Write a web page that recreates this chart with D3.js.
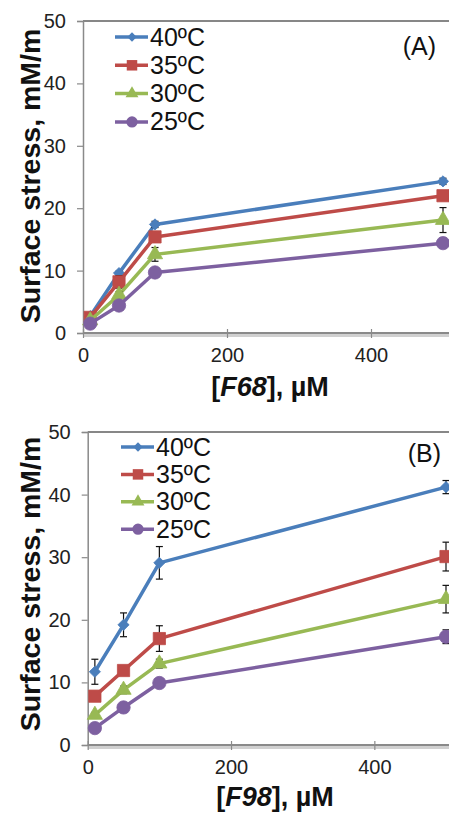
<!DOCTYPE html>
<html>
<head>
<meta charset="utf-8">
<script src="https://cdn.jsdelivr.net/npm/d3@7"></script>
<style>
  body { margin: 0; background: #fff; }
  svg { display: block; font-family: "Liberation Sans", Arial, sans-serif; }
</style>
</head>
<body>
<main></main>
<script>
// DATA
const concentrations = [10, 50, 100, 500];
const seriesNames = ["40ºC", "35ºC", "30ºC", "25ºC"];
const xTicks = [0, 200, 400];
const yTicks = [0, 10, 20, 30, 40, 50];

// panel A : F68
const f68_40 = [2.7, 9.6, 17.4, 24.3];
const f68_35 = [2.5, 8.2, 15.4, 22.0];
const f68_30 = [2.0, 6.1, 12.6, 18.1];
const f68_25 = [1.5, 4.4, 9.7, 14.4];
const f68_err40 = [0.3, 0.3, 0.5, 0.5];
const f68_err35 = [0.3, 1.0, 0.8, 0.5];
const f68_err30 = [0.3, 0.5, 1.1, 2.0];
const f68_err25 = [0.3, 0.4, 0.4, 0.8];

// panel B : F98
const f98_40 = [11.7, 19.2, 29.1, 41.2];
const f98_35 = [7.8, 11.9, 17.0, 30.1];
const f98_30 = [4.8, 8.8, 13.0, 23.3];
const f98_25 = [2.7, 6.0, 9.9, 17.3];
const f98_err40 = [2.0, 1.9, 2.6, 1.05];
const f98_err35 = [0.4, 0.5, 2.05, 2.3];
const f98_err30 = [0.4, 0.6, 0.7, 2.2];
const f98_err25 = [0.3, 0.3, 0.4, 1.1];

// styles
const colors = ["#4a7ebb", "#be4b48", "#98b954", "#7d60a0"];
const symbols = [d3.symbolDiamond2, d3.symbolSquare, d3.symbolTriangle, d3.symbolCircle];
const symbolSizes = [80, 150, 100, 140];
const legendSizes = [56, 110, 72, 100];

const W = 449, H = 816;
const svg = d3.select("main").append("svg").attr("width", W).attr("height", H);

function drawPanel(p) {
	const x = d3.scaleLinear().domain([0, 500]).range([p.left, p.left + p.xPer500]);
	const y = d3.scaleLinear().domain([0, 50]).range([p.bottom, p.top]);
	const g = svg.append("g");

	// top frame line
	g.append("line").attr("x1", p.left).attr("x2", W).attr("y1", p.top).attr("y2", p.top)
		.attr("stroke", "#111").attr("stroke-width", 1.2);

	// y axis
	const yAxis = d3.axisLeft(y).tickValues(yTicks).tickSize(6).tickPadding(11);
	const ya = g.append("g").attr("transform", "translate(" + p.left + ",0)").call(yAxis);
	ya.select(".domain").attr("stroke", "#8a8a8a").attr("stroke-width", 1.5);
	ya.selectAll(".tick line").attr("stroke", "#8a8a8a").attr("stroke-width", 1.2);
	ya.selectAll(".tick text").attr("font-size", 20).attr("fill", "#222")
		.attr("font-family", "Liberation Sans, Arial, sans-serif");

	// x axis (with a soft shadow)
	g.append("line").attr("x1", p.left).attr("x2", W).attr("y1", p.bottom + 2.5).attr("y2", p.bottom + 2.5)
		.attr("stroke", "#d0d0d0").attr("stroke-width", 3);
	const xAxis = d3.axisBottom(x).tickValues(xTicks).tickSize(5).tickPadding(10);
	const xa = g.append("g").attr("transform", "translate(0," + p.bottom + ")").call(xAxis);
	xa.select(".domain").attr("d", "M" + p.left + ",0H" + W).attr("stroke", "#8a8a8a").attr("stroke-width", 2);
	xa.selectAll(".tick line").attr("stroke", "#8a8a8a").attr("stroke-width", 1.2).attr("y1", -4);
	xa.selectAll(".tick text").attr("font-size", 20).attr("fill", "#222")
		.attr("font-family", "Liberation Sans, Arial, sans-serif");

	// series
	p.series.forEach((vals, i) => {
		const pts = concentrations.map((c, j) => ({ c: c, v: vals[j], e: p.errors[i][j] }));
		// lines
		g.append("path").datum(pts)
			.attr("fill", "none").attr("stroke", colors[i]).attr("stroke-width", 3.5)
			.attr("stroke-linejoin", "round")
			.attr("d", d3.line().x(d => x(d.c)).y(d => y(d.v)));
		// error bars
		const eb = g.append("g").attr("stroke", "#111").attr("stroke-width", 1.2);
		pts.forEach(d => {
			eb.append("line").attr("x1", x(d.c)).attr("x2", x(d.c)).attr("y1", y(d.v - d.e)).attr("y2", y(d.v + d.e));
			eb.append("line").attr("x1", x(d.c) - 3.5).attr("x2", x(d.c) + 3.5).attr("y1", y(d.v - d.e)).attr("y2", y(d.v - d.e));
			eb.append("line").attr("x1", x(d.c) - 3.5).attr("x2", x(d.c) + 3.5).attr("y1", y(d.v + d.e)).attr("y2", y(d.v + d.e));
		});
		// markers
		g.selectAll(null).data(pts).enter().append("path")
			.attr("d", d3.symbol().type(symbols[i]).size(symbolSizes[i]))
			.attr("transform", d => "translate(" + x(d.c) + "," + y(d.v) + ")")
			.attr("fill", colors[i]).attr("stroke", colors[i]).attr("stroke-width", 0.8);
	});

	// legend
	seriesNames.forEach((name, i) => {
		const ly = p.legendY + i * p.legendStep;
		g.append("line").attr("x1", p.legendX).attr("x2", p.legendX + 33).attr("y1", ly).attr("y2", ly)
			.attr("stroke", colors[i]).attr("stroke-width", 3.5);
		g.append("path").attr("d", d3.symbol().type(symbols[i]).size(legendSizes[i]))
			.attr("transform", "translate(" + (p.legendX + 17) + "," + ly + ")")
			.attr("fill", colors[i]);
		g.append("text").attr("x", p.legendX + 35).attr("y", ly + 8.5)
			.attr("font-size", 25).attr("fill", "#111").text(name);
	});

	// panel label
	g.append("text").attr("x", p.labelX).attr("y", p.labelY).attr("text-anchor", "end")
		.attr("font-size", 25).attr("fill", "#111").text(p.label);

	// axis titles
	g.append("text").attr("transform", "translate(40," + p.yTitleY + ") rotate(-90)")
		.attr("text-anchor", "middle").attr("font-size", 28.5).attr("font-weight", "bold")
		.attr("fill", "#111").text("Surface stress, mM/m");
	const xt = g.append("text").attr("x", p.xTitleX).attr("y", p.xTitleY).attr("text-anchor", "middle")
		.attr("font-size", 27).attr("font-weight", "bold").attr("fill", "#111");
	xt.append("tspan").text("[");
	xt.append("tspan").attr("font-style", "italic").text(p.compound);
	xt.append("tspan").text("], µM");
}

drawPanel({
	left: 83, top: 21, bottom: 333, xPer500: 360,
	series: [f68_40, f68_35, f68_30, f68_25],
	errors: [f68_err40, f68_err35, f68_err30, f68_err25],
	legendX: 115, legendY: 37, legendStep: 28.3,
	label: "(A)", labelX: 436, labelY: 55,
	yTitleY: 176, xTitleX: 270, xTitleY: 396, compound: "F68"
});

drawPanel({
	left: 87.7, top: 432, bottom: 745, xPer500: 358.3,
	series: [f98_40, f98_35, f98_30, f98_25],
	errors: [f98_err40, f98_err35, f98_err30, f98_err25],
	legendX: 121, legendY: 447, legendStep: 27.4,
	label: "(B)", labelX: 441, labelY: 462,
	yTitleY: 584, xTitleX: 275, xTitleY: 806, compound: "F98"
});
</script>
</body>
</html>
